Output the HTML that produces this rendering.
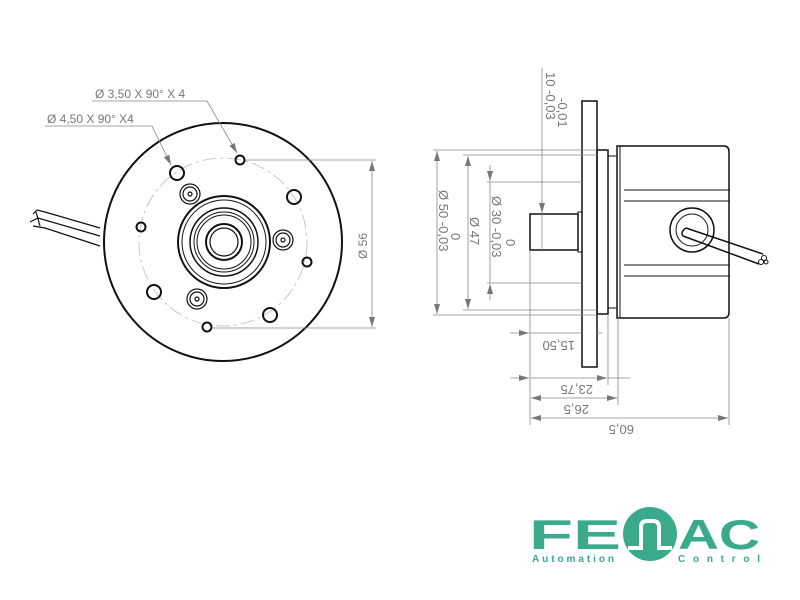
<!DOCTYPE html>
<html><head><meta charset="utf-8"><style>html,body{margin:0;padding:0;background:#fff}svg{display:block}</style></head>
<body>
<svg width="800" height="600" viewBox="0 0 800 600" xmlns="http://www.w3.org/2000/svg" font-family="Liberation Sans, sans-serif">
<defs>
<marker id="a" markerWidth="10" markerHeight="6" refX="10" refY="3" orient="auto-start-reverse" markerUnits="userSpaceOnUse"><path d="M0,0L10,3L0,6z" fill="#777"/></marker>
</defs>
<!-- LEFT VIEW -->
<g fill="none" stroke="#111">
<path d="M33,214 L37,210 L45,212 L100,228 M30,222 L38,218 L100,236 M33,226 L45,228 L100,246 M36,212 L40,226" stroke-width="1.2"/>
<circle cx="223" cy="242" r="119" stroke-width="2"/>
<circle cx="223" cy="242" r="84" stroke="#bbb" stroke-width="0.8" stroke-dasharray="14,4,3,4"/>
<circle cx="224" cy="242" r="46" stroke-width="2"/>
<circle cx="224" cy="242" r="42" stroke-width="1"/>
<circle cx="224" cy="242" r="34" stroke-width="1.5"/>
<circle cx="224" cy="242" r="30" stroke-width="1"/>
<circle cx="224" cy="242" r="27" stroke-width="1"/>
<circle cx="224" cy="242" r="18" stroke-width="2"/>
<circle cx="224" cy="242" r="14" stroke-width="1.2"/>
<g stroke-width="2">
<circle cx="240" cy="160" r="4.5"/><circle cx="141" cy="227" r="4.5"/><circle cx="307" cy="262" r="4.5"/><circle cx="207" cy="327" r="4.5"/>
<circle cx="177" cy="173" r="7"/><circle cx="294" cy="197" r="7"/><circle cx="154" cy="292" r="7"/><circle cx="270" cy="315" r="7"/>
</g>
<g stroke-width="1.2">
<circle cx="190" cy="194" r="10"/><circle cx="190" cy="194" r="7"/><circle cx="190" cy="194" r="2"/>
<circle cx="283" cy="240" r="10"/><circle cx="283" cy="240" r="7"/><circle cx="283" cy="240" r="2"/>
<circle cx="197" cy="299" r="10"/><circle cx="197" cy="299" r="7"/><circle cx="197" cy="299" r="2"/>
</g>
</g>
<g stroke="#888" stroke-width="0.8" fill="none">
<line x1="246" y1="160" x2="376" y2="160"/><line x1="213" y1="328" x2="376" y2="328"/>
<line x1="372" y1="161" x2="372" y2="327" marker-start="url(#a)" marker-end="url(#a)"/>
<polyline points="92,101 207,101 237,153" marker-end="url(#a)"/>
<polyline points="45,126 152,126 171,165" marker-end="url(#a)"/>
</g>
<g fill="#777" font-size="12">
<text x="95" y="98">Ø 3,50 X 90° X 4</text>
<text x="47" y="123">Ø 4,50 X 90° X4</text>
<text transform="translate(367,259) rotate(-90)">Ø 56</text>
</g>
<!-- RIGHT VIEW -->
<g fill="none" stroke="#111">
<rect x="582" y="101" width="15" height="266" stroke-width="1.5"/>
<rect x="530" y="214" width="48" height="36" stroke-width="1.5"/>
<rect x="578" y="212" width="4" height="40" stroke-width="1"/>
<rect x="597" y="150" width="11" height="164" stroke-width="1.5"/>
<rect x="608" y="156" width="9" height="152" stroke-width="1"/>
<path d="M617,146 H724 Q729,146 729,152 V312 Q729,318 724,318 H617 Z" stroke-width="1.5"/>
<line x1="620" y1="146" x2="620" y2="318" stroke-width="1"/>
<path d="M624,190 H730 M624,201 H730 M624,265 H730 M624,276 H730" stroke-width="1"/>
<circle cx="692" cy="230" r="22" stroke-width="1.5"/><circle cx="692" cy="230" r="16" stroke-width="1"/>
<path d="M686,228 L763,254 M683,236 L759,264 M686,228 Q680,232 683,236" stroke-width="1.5"/>
<circle cx="764" cy="258" r="2.5"/><circle cx="761" cy="262" r="2.5"/><circle cx="766" cy="262" r="2"/>
</g>
<g stroke="#888" stroke-width="0.8" fill="none">
<line x1="433" y1="150" x2="597" y2="150"/><line x1="433" y1="315" x2="597" y2="315"/>
<line x1="437" y1="151" x2="437" y2="314" marker-start="url(#a)" marker-end="url(#a)"/>
<line x1="463" y1="155" x2="597" y2="155"/><line x1="463" y1="310" x2="597" y2="310"/>
<line x1="468" y1="156" x2="468" y2="309" marker-start="url(#a)" marker-end="url(#a)"/>
<line x1="487" y1="182" x2="582" y2="182"/><line x1="487" y1="283" x2="582" y2="283"/>
<line x1="490" y1="165" x2="490" y2="181" marker-end="url(#a)"/><line x1="490" y1="300" x2="490" y2="284" marker-end="url(#a)"/>
<line x1="490" y1="182" x2="490" y2="283"/>
<line x1="542" y1="68" x2="542" y2="250"/>
<line x1="542" y1="200" x2="542" y2="213" marker-end="url(#a)"/>
<line x1="530" y1="250" x2="530" y2="425"/><line x1="729" y1="318" x2="729" y2="425"/>
<line x1="608" y1="314" x2="608" y2="385"/><line x1="618" y1="318" x2="618" y2="405"/>
<line x1="510" y1="333" x2="529" y2="333" marker-end="url(#a)"/><line x1="597" y1="333" x2="602" y2="333"/>
<line x1="530" y1="333" x2="582" y2="333"/>
<line x1="510" y1="378" x2="529" y2="378" marker-end="url(#a)"/><line x1="530" y1="378" x2="607" y2="378" marker-end="url(#a)"/><line x1="608" y1="378" x2="630" y2="378"/>
<line x1="531" y1="398" x2="617" y2="398" marker-start="url(#a)" marker-end="url(#a)"/>
<line x1="531" y1="418" x2="728" y2="418" marker-start="url(#a)" marker-end="url(#a)"/>
</g>
<g fill="#777" font-size="13">
<text transform="translate(546,72) rotate(90)">10 -0,03</text>
<text transform="translate(558,98) rotate(90)">-0,01</text>
<text transform="translate(439,190) rotate(90)">Ø 50 -0,03</text>
<text transform="translate(451,233) rotate(90)">0</text>
<text transform="translate(470,217) rotate(90)">Ø 47</text>
<text transform="translate(492,196) rotate(90)">Ø 30 -0,03</text>
<text transform="translate(506,239) rotate(90)">0</text>
<text transform="translate(575,341) rotate(180)">15,50</text>
<text transform="translate(593,385) rotate(180)">23,75</text>
<text transform="translate(589,405) rotate(180)">26,5</text>
<text transform="translate(634,425) rotate(180)">60,5</text>
</g>
<!-- LOGO -->
<g fill="#3aa98c">
<text x="529" y="549" font-size="42" font-weight="bold" textLength="92" lengthAdjust="spacingAndGlyphs">FE</text>
<circle cx="650" cy="534" r="27"/>
<text x="678" y="549" font-size="42" font-weight="bold" textLength="82" lengthAdjust="spacingAndGlyphs">AC</text>
<text x="532" y="562" font-size="10" font-weight="bold" textLength="82" lengthAdjust="spacing">Automation</text>
<text x="678" y="562" font-size="10" font-weight="bold" textLength="82" lengthAdjust="spacing">Control</text>
</g>
<path d="M628,548 H641 V527 Q641,521 647,521 H653 Q659,521 659,527 V548 H672" fill="none" stroke="#fff" stroke-width="4"/>
</svg>
</body></html>
